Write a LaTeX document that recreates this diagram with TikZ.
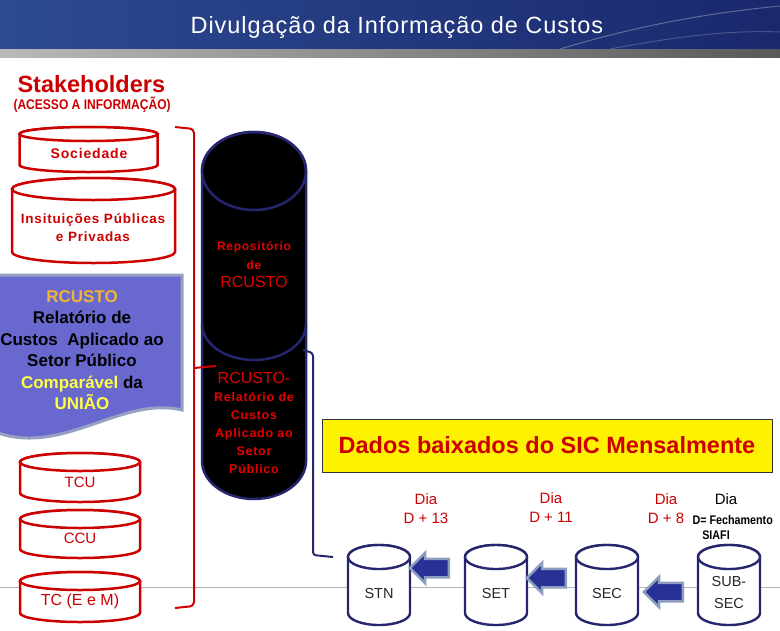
\documentclass[tikz,border=0pt]{standalone}
\usepackage{fontspec}
\setmainfont{Liberation Sans}
\newfontfamily\narrowfont[FakeStretch=0.86]{Liberation Sans}
\newfontfamily\spacedfont[LetterSpace=6]{Liberation Sans}
\newfontfamily\titlefont[LetterSpace=4]{Liberation Sans}
\usetikzlibrary{shapes.arrows,positioning}

\definecolor{stakered}{RGB}{204,0,0}
\definecolor{repnavy}{RGB}{38,38,110}
\definecolor{docblue}{RGB}{104,104,206}
\definecolor{docedge}{RGB}{150,160,195}
\definecolor{rcorange}{RGB}{240,180,50}
\definecolor{rcyellow}{RGB}{255,255,70}
\definecolor{arrblue}{RGB}{40,50,150}
\definecolor{arredge}{RGB}{140,158,190}
\definecolor{bannerL}{RGB}{44,74,146}
\definecolor{bannerR}{RGB}{26,40,108}

\tikzset{
  pics/tank/.style n args={3}{code={
    \path[pic actions] (-#1/2,-#2/2+#3) -- (-#1/2,#2/2-#3)
      arc[start angle=180, end angle=0, x radius=#1/2, y radius=#3]
      -- (#1/2,-#2/2+#3)
      arc[start angle=0, end angle=-180, x radius=#1/2, y radius=#3] -- cycle;
    \path[pic actions] (0,-#2/2+#3) ellipse[x radius=#1/2, y radius=#3];
  }},
  stakedb/.style={draw=stakered, line width=2.5pt, fill=white},
  staketext/.style={text=stakered, align=center, font=\fontsize{15}{18}\selectfont},
  sicdb/.style={draw=repnavy, line width=2.4pt, fill=white},
  sictext/.style={text=black!85, align=center, font=\fontsize{14.5}{21}\selectfont},
  flowarrow/.style={single arrow, shape border rotate=180, fill=arrblue, draw=arredge,
    line width=2.5pt, minimum width=30pt, minimum height=39pt, inner xsep=0pt,
    inner ysep=8pt, single arrow head extend=6pt},
  dialabel/.style={text=stakered, align=center, font=\fontsize{15}{19}\selectfont},
  reptext/.style={text=red!90!black, align=center},
}

\begin{document}
\begin{tikzpicture}[x=1pt,y=-1pt]
  \useasboundingbox (0,0) rectangle (780,630);
  % banner
  \shade[left color=bannerL, right color=bannerR] (0,0) rectangle (780,49);
  \draw[white, opacity=0.3, line width=1pt] (560,49) .. controls (650,22) and (720,12) .. (780,6);
  \draw[white, opacity=0.2, line width=1pt] (610,49) .. controls (680,36) and (730,30) .. (780,32);
  \shade[left color=gray!55, right color=gray!70!black] (0,49) rectangle (780,57);
  \node[text=white, font=\titlefont\fontsize{23.5}{26}\selectfont] (title) at (397,27)
    {Divulgação da Informação de Custos};

  \node[text=stakered, anchor=west, font=\bfseries\fontsize{23.5}{26}\selectfont]
    (stake) at (14,84) {Stakeholders};
  \node[text=stakered, anchor=west, font=\narrowfont\bfseries\fontsize{14}{15}\selectfont]
    (acesso) at (10,105) {(ACESSO A INFORMAÇÃO)};

  % horizontal rule
  \draw[gray!60, line width=0.8pt] (0,587) -- (780,587);

  % stakeholders
  \pic[stakedb] at (88.5,149.5) {tank={138}{45}{7}};
  \node[staketext, font=\spacedfont\bfseries\fontsize{14}{18}\selectfont] (soc) at (89,153) {Sociedade};
  \pic[stakedb] at (93.5,220.5) {tank={163}{85}{11}};
  \node[staketext, font=\spacedfont\bfseries\fontsize{13.5}{18}\selectfont] (inst) at (93,228)
    {Insituições Públicas\\e Privadas};
  \pic[stakedb] at (80,477.5) {tank={120}{49}{9}};
  \node[staketext] (tcu) at (80,482) {TCU};
  \pic[stakedb] at (80,534) {tank={120}{48}{9}};
  \node[staketext] (ccu) at (80,538) {CCU};
  \pic[stakedb] at (80,597) {tank={120}{50}{9}};
  \node[staketext, font=\fontsize{16}{18}\selectfont] (tcem) at (80,601) {TC (E e M)};

  % RCUSTO document
  \draw[docedge, line width=3pt, fill=docblue] (-10,275) -- (182,275) -- (182,410)
    .. controls (120,395) and (60,460) .. (-10,430) -- cycle;
  \node[align=center, font=\bfseries\fontsize{17}{21.5}\selectfont] (rcdoc) at (82,350)
    {\textcolor{rcorange}{RCUSTO}\\Relatório de\\Custos\ \ Aplicado ao\\Setor Público\\
     \textcolor{rcyellow}{Comparável} da\\\textcolor{rcyellow}{UNIÃO}};

  % bracket
  \draw[stakered, line width=2pt, rounded corners=4pt] (175,127) -- (194,129) -- (194,606) -- (175,608);
  \coordinate (brk) at (194,368);
  \coordinate (repin) at (216,366);

  % repository cylinder
  \draw[repnavy, line width=2.5pt, fill=black] (202,171) -- (202,461)
    arc[start angle=180, end angle=0, x radius=52, y radius=38] -- (306,171)
    arc[start angle=0, end angle=-180, x radius=52, y radius=39] -- cycle;
  \draw[repnavy, line width=2.5pt] (202,324) arc[start angle=180, end angle=0, x radius=52, y radius=36];
  \draw[repnavy, line width=2.5pt] (254,171) ellipse[x radius=52, y radius=39];
  \draw[stakered, line width=2pt] (brk) -- (repin);
  \node[reptext, font=\fontsize{16}{18.5}\selectfont] (repo) at (254,265)
    {{\spacedfont\bfseries\fontsize{12}{18.5}\selectfont Repositório}\\
     {\spacedfont\bfseries\fontsize{12}{18.5}\selectfont de}\\RCUSTO};
  \node[reptext, font=\spacedfont\bfseries\fontsize{12.5}{18}\selectfont] (rcrel) at (254,423)
    {{\rmfamily\mdseries\fontsize{16}{18}\selectfont RCUSTO-}\\Relatório de\\Custos\\Aplicado ao\\Setor\\Público};

  % SIC title
  \node[draw=black!80, fill=yellow, minimum width=450pt, minimum height=53pt,
    text=stakered, font=\bfseries\fontsize{23.5}{26}\selectfont] (sic) at (547,445.5)
    {Dados baixados do SIC Mensalmente};

  % SIC bases
  \pic[sicdb] at (379,585) {tank={62}{80}{12}};
  \node[sictext] (stn) at (379,594) {STN};
  \pic[sicdb] at (496,585) {tank={62}{80}{12}};
  \node[sictext] (set) at (496,594) {SET};
  \pic[sicdb] at (607,585) {tank={62}{80}{12}};
  \node[sictext] (sec) at (607,594) {SEC};
  \pic[sicdb] at (729,585) {tank={62}{80}{12}};
  \node[sictext] (subsec) at (729,592.5) {SUB-\\SEC};

  \node[flowarrow] (a1) at (434,568) {};
  \node[flowarrow] (a2) at (551,578) {};
  \node[flowarrow] (a3) at (668,592) {};

  % repository to STN
  \coordinate (repout) at (303,350);
  \coordinate (stnin) at (333,557);
  \draw[repnavy, line width=2pt, rounded corners=3pt] (repout) -- (313,353) -- (313,555) -- (stnin);

  % days
  \node[dialabel] (d13) at (426,509) {Dia\\D + 13};
  \node[dialabel] (d11) at (551,508) {Dia\\D + 11};
  \node[dialabel] (d8) at (666,509) {Dia\\D + 8};
  \node[font=\fontsize{15}{18}\selectfont] (d0) at (726,499) {Dia};
  \node[font=\narrowfont\bfseries\fontsize{12.5}{15}\selectfont, anchor=west] (fech) at (689,520) {D= Fechamento};
  \node[font=\narrowfont\bfseries\fontsize{12.5}{15}\selectfont] (siafi) at (716,535) {SIAFI};
\end{tikzpicture}
\end{document}
